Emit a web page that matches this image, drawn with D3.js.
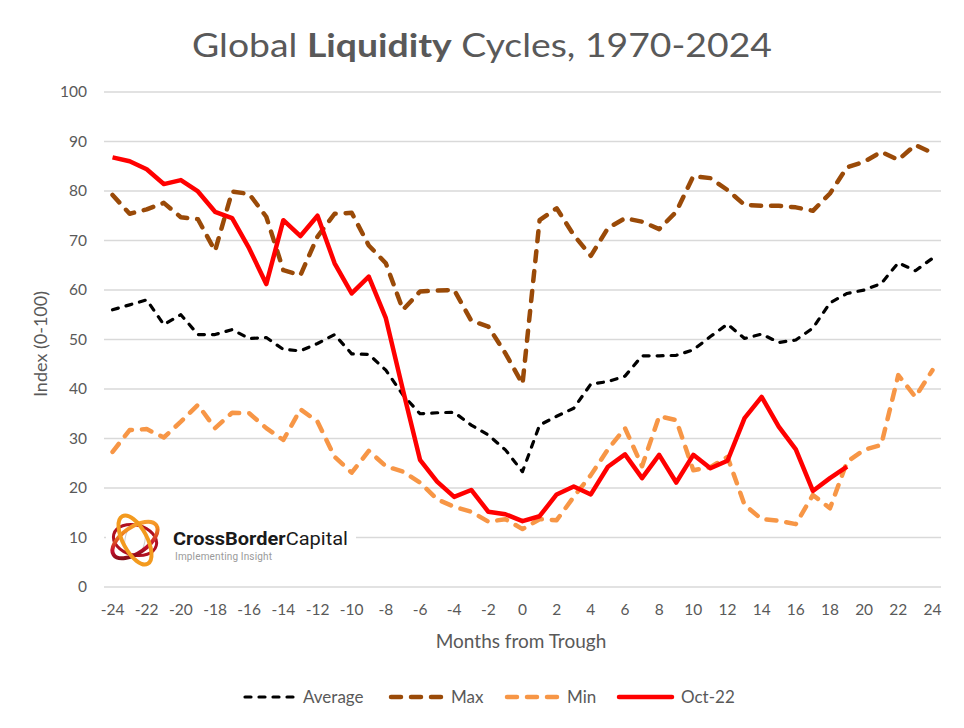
<!DOCTYPE html>
<html>
<head>
<meta charset="utf-8">
<script src="https://cdn.jsdelivr.net/npm/d3@7"></script>
<style>
  body { margin: 0; background: #fff; }
  svg text { font-family: Lato, "Open Sans", sans-serif; fill: #595959; }
</style>
</head>
<body>
<svg id="chart" width="964" height="728"></svg>
<script>
// months from trough, -24 .. 24
const months = d3.range(-24, 25);
const xTicks = d3.range(-24, 25, 2);
const yTicks = [0, 10, 20, 30, 40, 50, 60, 70, 80, 90, 100];

const average = [56, 57, 58, 53, 55, 51, 51, 52, 50.2, 50.4, 48, 47.7, 49.2, 51, 47.1, 47, 43.8, 38.8, 35, 35.2, 35.3, 32.7, 30.7, 27.7, 23.3,
  32.7, 34.5, 36.1, 41, 41.5, 42.6, 46.7, 46.7, 46.8, 47.9, 50.6, 53.1, 50.2, 51.1, 49.4, 49.9, 52.3, 57.4, 59.3, 60, 61.3, 65.5, 63.9, 66.4];
const maxs = [79.2, 75.4, 76.3, 77.6, 74.7, 74.3, 67.9, 79.9, 79.4, 74.8, 64, 63, 70.8, 75.4, 75.6, 69, 65.4, 56, 59.7, 59.9, 60, 53.8, 52.6, 47.2, 41,
  74.1, 76.5, 71.1, 66.9, 72.5, 74.5, 73.8, 72.3, 75.8, 83, 82.6, 80.2, 77.2, 77, 77, 76.7, 76, 79.5, 84.8, 85.9, 87.9, 86.3, 89.3, 87.7];
const mins = [27.3, 31.7, 31.9, 30.2, 33.4, 36.8, 32.1, 35.2, 35.1, 32.1, 29.7, 35.9, 33.4, 26.3, 23.1, 27.5, 24.4, 23.3, 21.1, 17.7, 16.2, 15.2, 13.2, 13.7, 11.7,
  13.7, 13.5, 18.2, 22.6, 27.8, 32.1, 24.4, 34.5, 33.7, 23.6, 24.2, 26.3, 16.6, 13.7, 13.4, 12.7, 18.6, 15.9, 25.3, 27.7, 28.7, 42.8, 38.4, 43.8];
// Oct-22 cycle, runs to month 19
const oct22 = [86.8, 86, 84.4, 81.4, 82.2, 79.9, 75.8, 74.5, 68.4, 61.2, 74.1, 70.9, 75, 65.4, 59.3, 62.7, 54.3, 39.8, 25.7, 21.3, 18.2, 19.6, 15.2, 14.7, 13.3,
  14.3, 18.7, 20.3, 18.7, 24.3, 26.8, 22, 26.7, 21.1, 26.7, 24, 25.5, 34.1, 38.4, 32.4, 27.8, 19.4, 22, 24.3];

const seriesNames = ["Average", "Max", "Min", "Oct-22"];

const svg = d3.select('#chart');
const x = d3.scalePoint().domain(months).range([104, 941]).padding(0.5);
const y = d3.scaleLinear().domain([0, 100]).range([587, 92]);

// title
svg.append('text')
  .attr('x', 482).attr('y', 57)
  .attr('text-anchor', 'middle')
  .attr('textLength', 580)
  .attr('lengthAdjust', 'spacingAndGlyphs')
  .style('font-size', '33px')
  .html('Global <tspan style="font-weight:bold">Liquidity</tspan> Cycles, 1970-2024');

// gridlines
svg.append('g')
  .selectAll('line')
  .data(yTicks)
  .enter()
  .append('line')
  .attr('x1', 104).attr('x2', 941)
  .attr('y1', d => y(d)).attr('y2', d => y(d))
  .attr('stroke', '#d9d9d9')
  .attr('stroke-width', 1.3);

// y tick labels
svg.append('g')
  .selectAll('text')
  .data(yTicks)
  .enter()
  .append('text')
  .attr('x', 87)
  .attr('y', d => y(d) + 5)
  .attr('text-anchor', 'end')
  .style('font-size', '15.5px')
  .text(d => d);

// x tick labels
svg.append('g')
  .selectAll('text')
  .data(xTicks)
  .enter()
  .append('text')
  .attr('x', d => x(d))
  .attr('y', 615)
  .attr('text-anchor', 'middle')
  .style('font-size', '15.5px')
  .text(d => d);

svg.append('text')
  .attr('x', 521).attr('y', 648)
  .attr('text-anchor', 'middle')
  .style('font-size', '19px')
  .text('Months from Trough');

svg.append('text')
  .attr('transform', 'translate(47,344) rotate(-90)')
  .attr('text-anchor', 'middle')
  .style('font-size', '18px')
  .text('Index (0-100)');

// logo (white box hides the gridline behind it)
const logo = svg.append('g').attr('class', 'logo');
logo.append('rect')
  .attr('x', 106).attr('y', 508).attr('width', 250).attr('height', 62)
  .attr('fill', '#fff');

const defs = svg.append('defs');
const grad = defs.append('linearGradient')
  .attr('id', 'ringGrad')
  .attr('x1', '0%').attr('y1', '100%').attr('x2', '100%').attr('y2', '0%');
grad.append('stop').attr('offset', '0%').attr('stop-color', '#5a0a0a');
grad.append('stop').attr('offset', '35%').attr('stop-color', '#c8102e');
grad.append('stop').attr('offset', '70%').attr('stop-color', '#f28c1e');
grad.append('stop').attr('offset', '100%').attr('stop-color', '#fbb040');

const rings = [
  { rx: 17, ry: 10, rot: -80, w: 1, c: '#cccccc' },
  { rx: 22, ry: 15, rot: 15, w: 3, c: '#b01020' },
  { rx: 26, ry: 13, rot: -35, w: 4, c: 'url(#ringGrad)' },
  { rx: 27, ry: 12, rot: 62, w: 4, c: '#f39a1e' }
];
logo.selectAll('ellipse')
  .data(rings)
  .enter()
  .append('ellipse')
  .attr('cx', 0).attr('cy', 0)
  .attr('rx', d => d.rx).attr('ry', d => d.ry)
  .attr('transform', d => 'translate(135,540) rotate(' + d.rot + ')')
  .attr('fill', 'none')
  .attr('stroke', d => d.c)
  .attr('stroke-width', d => d.w);

logo.append('text')
  .attr('x', 173).attr('y', 545)
  .attr('textLength', 175)
  .attr('lengthAdjust', 'spacingAndGlyphs')
  .style('font-family', 'Roboto, sans-serif')
  .style('font-size', '18.5px')
  .style('fill', '#1a1a1a')
  .html('<tspan style="font-weight:bold">CrossBorder</tspan>Capital');
logo.append('text')
  .attr('x', 175).attr('y', 560)
  .attr('textLength', 97)
  .style('font-family', 'Roboto, sans-serif')
  .style('font-size', '10px')
  .style('fill', '#9a9a9a')
  .text('Implementing Insight');

// lines
const styles = [
  { data: average, color: '#000000', width: 3.2, dash: '6,8' },
  { data: maxs, color: '#9a4a08', width: 4.5, dash: '10,10' },
  { data: mins, color: '#f79646', width: 4.5, dash: '10,10' },
  { data: oct22, color: '#ff0000', width: 4.5, dash: null }
];

const line = d3.line()
  .x((d, i) => x(months[i]))
  .y(d => y(d));

svg.append('g')
  .selectAll('path')
  .data(styles)
  .enter()
  .append('path')
  .attr('d', d => line(d.data))
  .attr('fill', 'none')
  .attr('stroke', d => d.color)
  .attr('stroke-width', d => d.width)
  .attr('stroke-dasharray', d => d.dash)
  .attr('stroke-linecap', d => d.dash ? 'round' : 'butt')
  .attr('stroke-linejoin', 'round');

// legend
const legendX = [243, 389, 505, 619];
const legend = svg.append('g')
  .selectAll('g')
  .data(styles)
  .enter()
  .append('g')
  .attr('transform', (d, i) => 'translate(' + legendX[i] + ',697)');
legend.append('line')
  .attr('x1', (d, i) => i === 3 ? 0 : 2).attr('x2', (d, i) => i === 0 ? 54 : 53)
  .attr('y1', 0).attr('y2', 0)
  .attr('stroke', d => d.color)
  .attr('stroke-width', d => d.width)
  .attr('stroke-dasharray', d => d.dash)
  .attr('stroke-linecap', 'round');
legend.append('text')
  .attr('x', (d, i) => i === 0 ? 60 : 62)
  .attr('y', 6)
  .style('font-size', '17px')
  .text((d, i) => seriesNames[i]);
</script>
</body>
</html>
